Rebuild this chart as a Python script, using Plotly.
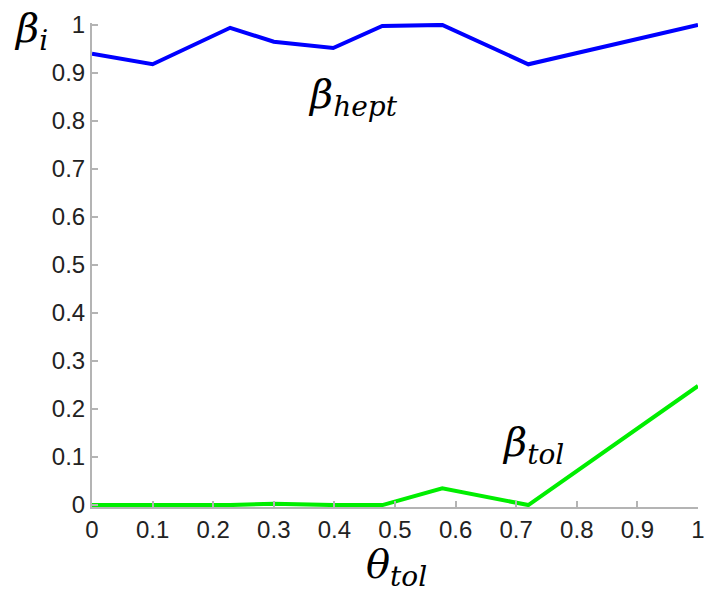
import plotly.graph_objects as go

theta_tol = [0.0, 0.1, 0.228, 0.3, 0.398, 0.479, 0.578, 0.72, 1.0]
beta_hept = [0.94, 0.918, 0.994, 0.965, 0.952, 0.998, 1.0, 0.918, 1.0]
beta_tol = [0.0, 0.0, 0.0, 0.003, 0.0, 0.0, 0.035, 0.0, 0.248]
tick_vals = [0, 0.1, 0.2, 0.3, 0.4, 0.5, 0.6, 0.7, 0.8, 0.9, 1]
tick_text = ["0", "0.1", "0.2", "0.3", "0.4", "0.5", "0.6", "0.7", "0.8", "0.9", "1"]

W, H = 704, 595
ML, MR, MT, MB = 92, 6, 23, 88

fig = go.Figure()
fig.add_trace(go.Scatter(x=theta_tol, y=beta_hept, mode="lines",
                         line=dict(color="#0000ff", width=4), showlegend=False))
fig.add_trace(go.Scatter(x=theta_tol, y=beta_tol, mode="lines",
                         line=dict(color="#00ee00", width=4), showlegend=False))

axis_common = dict(showgrid=False, zeroline=False, showline=True, linecolor="#b4b4b4",
                   linewidth=2, ticks="inside", ticklen=6, tickcolor="#b4b4b4",
                   tickwidth=1.5, ticklabeloverflow="allow",
                   tickfont=dict(family="Liberation Sans, Arial", size=24, color="#222222"),
                   tickvals=tick_vals, ticktext=tick_text)

fig.update_layout(
    width=W, height=H,
    margin=dict(l=ML, r=MR, t=MT, b=MB, autoexpand=False),
    paper_bgcolor="white", plot_bgcolor="white",
    xaxis=dict(range=[0, 1], **axis_common),
    yaxis=dict(range=[-0.004, 1.004], **axis_common),
)

serif = "DejaVu Serif"
ann = [
    dict(text="<i>β</i><sub><i>i</i></sub>", x=31, y=31),
    dict(text="<i>β</i><sub><i>hept</i></sub>", x=353, y=97),
    dict(text="<i>β</i><sub><i>tol</i></sub>", x=533, y=445),
    dict(text="<i>θ</i><sub><i>tol</i></sub>", x=396, y=567),
]
for a in ann:
    fig.add_annotation(text=a["text"], xref="paper", yref="paper",
                       x=(a["x"] - ML) / (W - ML - MR),
                       y=1 - (a["y"] - MT) / (H - MT - MB),
                       showarrow=False, xanchor="center", yanchor="middle",
                       font=dict(family=serif, size=40, color="black"))

fig.write_html("out.html", config={"displayModeBar": False},
               post_script="document.body.style.margin='0';document.body.style.overflow='hidden';")
